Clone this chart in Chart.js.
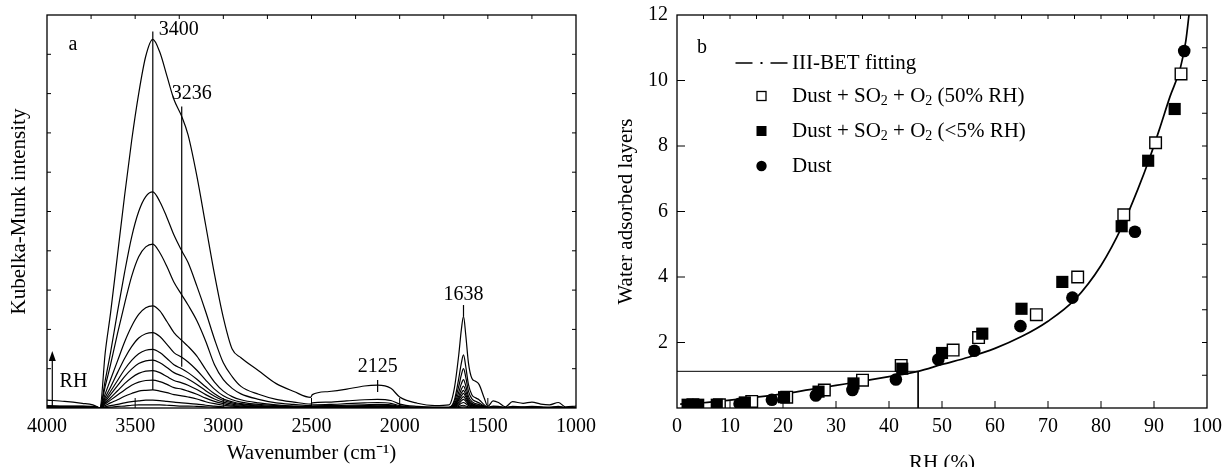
<!DOCTYPE html>
<html>
<head>
<meta charset="utf-8">
<script src="https://cdn.jsdelivr.net/npm/chart.js@4.4.0/dist/chart.umd.min.js"></script>
<style>
  body { margin: 0; background: #fff; width: 1224px; height: 467px; overflow: hidden; position: relative; }
  .panel { position: absolute; top: 0; width: 612px; height: 467px; }
</style>
</head>
<body>
<div class="panel" style="left:0"><canvas id="chartA" width="612" height="467"></canvas></div>
<div class="panel" style="left:612px"><canvas id="chartB" width="612" height="467"></canvas></div>
<script>
const serif = '"Liberation Serif", "Times New Roman", serif';

// ---- panel a : DRIFTS spectra, one curve per RH step ----
const wavenumber = [4000, 3900, 3800, 3740, 3715, 3700,
  3670, 3640, 3600, 3560, 3520, 3480, 3440, 3400,
  3360, 3320, 3280, 3236, 3200, 3150, 3100, 3050, 3000,
  2950, 2900, 2800, 2700, 2600, 2505, 2495,
  2400, 2300, 2200, 2125, 2050, 2000,
  1900, 1800, 1720, 1690, 1665, 1650, 1638,
  1625, 1610, 1590, 1570, 1550, 1520, 1500,
  1470, 1440, 1400, 1360, 1300, 1250, 1200, 1150, 1100, 1060, 1000];

const km01 = [0, 0, 0, 0, 0, 0,
  0.01, 0.02, 0.04, 0.05, 0.07, 0.08, 0.08, 0.08,
  0.08, 0.07, 0.06, 0.05, 0.05, 0.04, 0.03, 0.02, 0.01,
  0, 0, 0, 0, 0, 0, 0,
  0, 0, 0, 0, 0, 0,
  0, 0, 0, 0, 0.01, 0.02, 0.03,
  0.02, 0.01, 0, 0, 0, 0, 0,
  0, 0, 0, 0, 0, 0, 0, 0, 0, 0, 0];
const km02 = [0.01, 0.01, 0, 0, 0, 0,
  0.03, 0.06, 0.09, 0.13, 0.16, 0.18, 0.20, 0.20,
  0.19, 0.17, 0.15, 0.13, 0.12, 0.10, 0.07, 0.05, 0.03,
  0.02, 0.01, 0.01, 0, 0, 0, 0,
  0, 0, 0, 0, 0, 0,
  0, 0, 0, 0.01, 0.04, 0.06, 0.07,
  0.05, 0.03, 0.01, 0.01, 0, 0, 0,
  0, 0, 0, 0, 0, 0, 0, 0, 0, 0, 0];
const km03 = [0.01, 0.01, 0.01, 0.01, 0, 0,
  0.06, 0.13, 0.21, 0.30, 0.37, 0.43, 0.45, 0.46,
  0.43, 0.39, 0.34, 0.31, 0.28, 0.23, 0.16, 0.11, 0.07,
  0.05, 0.03, 0.02, 0.01, 0.01, 0.01, 0.01,
  0.01, 0.01, 0.01, 0.01, 0.01, 0,
  0, 0, 0, 0.02, 0.07, 0.12, 0.14,
  0.11, 0.06, 0.03, 0.02, 0.01, 0, 0,
  0, 0, 0, 0, 0, 0, 0, 0, 0, 0, 0];
const km04 = [0.02, 0.01, 0.01, 0.01, 0.01, 0,
  0.10, 0.20, 0.33, 0.46, 0.58, 0.66, 0.70, 0.71,
  0.67, 0.60, 0.52, 0.48, 0.43, 0.35, 0.25, 0.17, 0.11,
  0.07, 0.05, 0.03, 0.02, 0.01, 0.01, 0.01,
  0.02, 0.02, 0.02, 0.02, 0.02, 0.01,
  0, 0, 0, 0.03, 0.11, 0.18, 0.22,
  0.17, 0.09, 0.05, 0.03, 0.02, 0.01, 0,
  0, 0, 0, 0, 0, 0, 0, 0, 0, 0, 0];
const km05 = [0.02, 0.02, 0.01, 0.01, 0.01, 0,
  0.13, 0.26, 0.44, 0.62, 0.77, 0.88, 0.94, 0.95,
  0.90, 0.80, 0.70, 0.64, 0.58, 0.47, 0.34, 0.23, 0.15,
  0.10, 0.07, 0.04, 0.03, 0.02, 0.01, 0.02,
  0.02, 0.03, 0.03, 0.03, 0.03, 0.01,
  0, 0, 0, 0.04, 0.15, 0.24, 0.29,
  0.22, 0.12, 0.06, 0.04, 0.03, 0.01, 0,
  0, 0, 0, 0, 0, 0, 0, 0, 0, 0, 0];
const km06 = [0.02, 0.02, 0.02, 0.01, 0.01, 0,
  0.17, 0.34, 0.57, 0.80, 0.99, 1.13, 1.20, 1.22,
  1.15, 1.03, 0.90, 0.82, 0.74, 0.60, 0.44, 0.30, 0.19,
  0.13, 0.09, 0.05, 0.03, 0.02, 0.02, 0.02,
  0.03, 0.03, 0.04, 0.04, 0.04, 0.02,
  0.01, 0, 0, 0.05, 0.20, 0.31, 0.37,
  0.28, 0.15, 0.08, 0.05, 0.04, 0.02, 0,
  0.01, 0.01, 0, 0.01, 0, 0.01, 0, 0, 0.01, 0, 0];
const km07 = [0.03, 0.02, 0.02, 0.02, 0.01, 0,
  0.21, 0.42, 0.70, 0.98, 1.21, 1.38, 1.47, 1.49,
  1.41, 1.26, 1.10, 1.00, 0.90, 0.73, 0.54, 0.36, 0.23,
  0.16, 0.11, 0.07, 0.04, 0.03, 0.02, 0.03,
  0.04, 0.04, 0.05, 0.05, 0.05, 0.02,
  0.01, 0, 0, 0.06, 0.24, 0.38, 0.45,
  0.34, 0.18, 0.10, 0.07, 0.05, 0.02, 0,
  0.01, 0.01, 0, 0.01, 0.01, 0.01, 0.01, 0, 0.01, 0, 0];
const km08 = [0.03, 0.03, 0.02, 0.02, 0.01, 0,
  0.27, 0.53, 0.90, 1.26, 1.56, 1.78, 1.89, 1.92,
  1.82, 1.62, 1.41, 1.29, 1.17, 0.96, 0.71, 0.48, 0.31,
  0.21, 0.15, 0.09, 0.06, 0.04, 0.03, 0.04,
  0.05, 0.05, 0.06, 0.07, 0.06, 0.03,
  0.01, 0.01, 0.01, 0.08, 0.30, 0.48, 0.56,
  0.43, 0.23, 0.12, 0.08, 0.07, 0.03, 0,
  0.01, 0.01, 0.01, 0.01, 0.01, 0.01, 0.01, 0.01, 0.01, 0.01, 0.01];
const km09 = [0.04, 0.03, 0.03, 0.03, 0.02, 0,
  0.36, 0.72, 1.20, 1.68, 2.08, 2.38, 2.55, 2.60,
  2.47, 2.20, 1.92, 1.72, 1.57, 1.32, 0.98, 0.66, 0.43,
  0.29, 0.21, 0.13, 0.08, 0.05, 0.04, 0.05,
  0.06, 0.07, 0.08, 0.09, 0.08, 0.04,
  0.01, 0.01, 0.01, 0.10, 0.40, 0.62, 0.72,
  0.56, 0.30, 0.16, 0.11, 0.09, 0.04, 0.01,
  0.02, 0.02, 0.01, 0.02, 0.01, 0.02, 0.01, 0.01, 0.02, 0.01, 0.01];
const km10 = [0.05, 0.04, 0.04, 0.03, 0.02, 0,
  0.55, 1.10, 1.90, 2.65, 3.35, 3.85, 4.10, 4.17,
  3.95, 3.60, 3.20, 2.88, 2.62, 2.22, 1.70, 1.10, 0.72,
  0.50, 0.36, 0.22, 0.13, 0.09, 0.06, 0.08,
  0.09, 0.11, 0.13, 0.14, 0.12, 0.06,
  0.02, 0.01, 0.01, 0.15, 0.55, 0.85, 1.00,
  0.78, 0.43, 0.23, 0.17, 0.13, 0.05, 0.01,
  0.03, 0.03, 0.01, 0.03, 0.02, 0.03, 0.02, 0.01, 0.03, 0.01, 0.01];
const km11 = [0.06, 0.05, 0.05, 0.04, 0.02, 0,
  0.70, 1.40, 2.45, 3.45, 4.35, 5.00, 5.38, 5.50,
  5.25, 4.85, 4.40, 4.00, 3.70, 3.10, 2.45, 1.75, 1.15,
  0.80, 0.55, 0.35, 0.22, 0.15, 0.10, 0.13,
  0.15, 0.18, 0.21, 0.22, 0.19, 0.10,
  0.04, 0.02, 0.02, 0.20, 0.75, 1.15, 1.35,
  1.05, 0.60, 0.33, 0.26, 0.21, 0.08, 0.02,
  0.05, 0.04, 0.01, 0.04, 0.03, 0.04, 0.03, 0.02, 0.04, 0.01, 0.01];
const km12 = [0.20, 0.17, 0.12, 0.08, 0.03, 0,
  1.40, 2.40, 3.90, 5.40, 6.80, 8.00, 8.95, 9.38,
  9.05, 8.45, 7.85, 7.42, 6.95, 5.90, 4.65, 3.40, 2.30,
  1.50, 1.28, 0.95, 0.62, 0.42, 0.27, 0.34,
  0.42, 0.48, 0.56, 0.58, 0.50, 0.28,
  0.12, 0.06, 0.08, 0.50, 1.35, 2.00, 2.33,
  1.85, 1.15, 0.75, 0.68, 0.60, 0.25, 0.04,
  0.18, 0.14, 0.03, 0.16, 0.12, 0.15, 0.10, 0.08, 0.14, 0.03, 0.05];
const spectra = [km01, km02, km03, km04, km05, km06, km07, km08, km09, km10, km11, km12];

const xTicksA = [4000, 3500, 3000, 2500, 2000, 1500, 1000];
const peakWn = [3400, 3236, 2125, 1638];
const peakLabels = ['3400', '3236', '2125', '1638'];
const peakLineLow = [0.46, 1.05, 0.41, 2.33];
const peakLineHigh = [9.58, 7.67, 0.71, 2.62];
const peakLabelY = [9.62, 7.99, 1.04, 2.88];

// ---- panel b : water adsorbed layers vs RH ----
const fitRH = [0.6, 5, 10, 15, 20, 25, 30, 35, 40, 45.5, 50, 55, 60, 65, 70, 75, 80, 84, 87, 89, 91, 93, 95, 96, 96.6];
const fitLayers = [0.12, 0.16, 0.24, 0.33, 0.43, 0.56, 0.69, 0.82, 0.96, 1.12, 1.33, 1.55, 1.82, 2.18, 2.65, 3.3, 4.35, 5.55, 6.7, 7.55, 8.5, 9.5, 10.4, 11.2, 12.0];

const dustRH = [11.8, 17.9, 26.2, 33.1, 41.3, 49.3, 56.1, 64.8, 74.6, 86.4, 95.7];
const dustLayers = [0.13, 0.25, 0.38, 0.55, 0.87, 1.48, 1.75, 2.5, 3.37, 5.38, 10.9];

const dryRH = [2.0, 4.0, 7.5, 12.8, 20.2, 26.7, 33.3, 42.5, 50.0, 57.6, 65.0, 72.7, 83.9, 88.9, 93.9];
const dryLayers = [0.1, 0.1, 0.1, 0.17, 0.33, 0.5, 0.75, 1.2, 1.68, 2.27, 3.03, 3.85, 5.55, 7.55, 9.13];

const wetRH = [3.0, 8.0, 14.1, 20.7, 27.8, 35.0, 42.3, 52.1, 56.9, 67.8, 75.6, 84.3, 90.3, 95.1];
const wetLayers = [0.1, 0.1, 0.2, 0.33, 0.55, 0.85, 1.3, 1.77, 2.15, 2.85, 4.0, 5.9, 8.1, 10.2];

const monolayer = 1.12;
const monolayerRH = 45.5;

const xTicksB = [0, 10, 20, 30, 40, 50, 60, 70, 80, 90, 100];
const yTicksB = [2, 4, 6, 8, 10, 12];

const pts = (xs, ys) => xs.map((v, i) => ({x: v, y: ys[i]}));

// inward tick marks on all four sides of the frame
function drawFrame(chart, marks) {
  const {ctx, chartArea: a, scales: {x, y}} = chart;
  ctx.save();
  ctx.strokeStyle = '#000';
  ctx.lineWidth = 1.3;
  ctx.strokeRect(a.left, a.top, a.right - a.left, a.bottom - a.top);
  ctx.lineWidth = 1;
  ctx.beginPath();
  marks.bottom[0].forEach(v => { const p = x.getPixelForValue(v); ctx.moveTo(p, a.bottom); ctx.lineTo(p, a.bottom - marks.bottom[1]); });
  marks.top[0].forEach(v => { const p = x.getPixelForValue(v); ctx.moveTo(p, a.top); ctx.lineTo(p, a.top + marks.top[1]); });
  marks.left[0].forEach(v => { const p = y.getPixelForValue(v); ctx.moveTo(a.left, p); ctx.lineTo(a.left + marks.left[1], p); });
  marks.right[0].forEach(v => { const p = y.getPixelForValue(v); ctx.moveTo(a.right, p); ctx.lineTo(a.right - marks.right[1], p); });
  ctx.stroke();
  ctx.restore();
}

const panelA = {
  id: 'panelA',
  afterDatasetsDraw(chart) {
    drawFrame(chart, {
      bottom: [[3500, 3000, 2500, 2000, 1500], 10],
      top: [[3750, 3500, 3250, 3000, 2750, 2500, 2250, 2000, 1750, 1500, 1250], 4],
      left: [[1, 2, 3, 4, 5, 6, 7, 8, 9], 4],
      right: [[1, 2, 3, 4, 5, 6, 7, 8, 9], 4]
    });
    const {ctx, chartArea: a, scales: {x, y}} = chart;
    ctx.save();
    ctx.strokeStyle = '#000';
    ctx.fillStyle = '#000';
    ctx.lineWidth = 1.2;
    ctx.font = '20px ' + serif;
    ctx.textBaseline = 'middle';
    ctx.textAlign = 'center';
    const labelShift = [26, 10, 0, 0];
    peakWn.forEach((wn, i) => {
      const px = x.getPixelForValue(wn);
      ctx.beginPath();
      ctx.moveTo(px, y.getPixelForValue(peakLineLow[i]));
      ctx.lineTo(px, y.getPixelForValue(peakLineHigh[i]));
      ctx.stroke();
      ctx.fillText(peakLabels[i], px + labelShift[i], y.getPixelForValue(peakLabelY[i]));
    });
    // RH arrow
    const ax = x.getPixelForValue(3970);
    const tip = y.getPixelForValue(1.45);
    ctx.beginPath();
    ctx.moveTo(ax, a.bottom);
    ctx.lineTo(ax, tip + 6);
    ctx.stroke();
    ctx.beginPath();
    ctx.moveTo(ax, tip);
    ctx.lineTo(ax - 3.5, tip + 10);
    ctx.lineTo(ax + 3.5, tip + 10);
    ctx.closePath();
    ctx.fill();
    ctx.fillText('RH', x.getPixelForValue(3850), y.getPixelForValue(0.66));
    ctx.fillText('a', a.left + 26, a.top + 30);
    ctx.restore();
  }
};

const legendRows = [
  [{t: 'III-BET fitting'}],
  [{t: 'Dust + SO'}, {t: '2', sub: true}, {t: ' + O'}, {t: '2', sub: true}, {t: ' (50% RH)'}],
  [{t: 'Dust + SO'}, {t: '2', sub: true}, {t: ' + O'}, {t: '2', sub: true}, {t: ' (<5% RH)'}],
  [{t: 'Dust'}]
];

const panelB = {
  id: 'panelB',
  afterDatasetsDraw(chart) {
    drawFrame(chart, {
      bottom: [[10, 20, 30, 40, 50, 60, 70, 80, 90], 7],
      top: [[5, 10, 15, 20, 25, 30, 35, 40, 45, 50, 55, 60, 65, 70, 75, 80, 85, 90, 95], 4],
      left: [[2, 4, 6, 8, 10], 8],
      right: [[1, 2, 3, 4, 5, 6, 7, 8, 9, 10, 11], 5]
    });
    const {ctx, chartArea: a} = chart;
    ctx.save();
    ctx.fillStyle = '#000';
    ctx.strokeStyle = '#000';
    ctx.textBaseline = 'middle';
    ctx.textAlign = 'center';
    ctx.font = '20px ' + serif;
    ctx.fillText('b', a.left + 25, a.top + 33);

    const symX = a.left + 84.5;
    const textX = a.left + 115;
    const rowY = [48, 81, 116, 151].map(v => a.top + v);
    // dash-dot sample
    ctx.lineWidth = 1.3;
    ctx.beginPath();
    ctx.moveTo(symX - 26, rowY[0]); ctx.lineTo(symX - 9, rowY[0]);
    ctx.moveTo(symX + 9, rowY[0]); ctx.lineTo(symX + 26, rowY[0]);
    ctx.stroke();
    ctx.fillRect(symX - 1, rowY[0] - 1, 2, 2);
    // open square, filled square, circle
    ctx.lineWidth = 1.3;
    ctx.strokeRect(symX - 4.5, rowY[1] - 4.5, 9, 9);
    ctx.fillRect(symX - 5, rowY[2] - 5, 10, 10);
    ctx.beginPath();
    ctx.arc(symX, rowY[3], 5.2, 0, Math.PI * 2);
    ctx.fill();

    ctx.textAlign = 'left';
    legendRows.forEach((row, i) => {
      let cx = textX;
      row.forEach(seg => {
        ctx.font = (seg.sub ? '14px ' : '21px ') + serif;
        ctx.fillText(seg.t, cx, rowY[i] + (seg.sub ? 5 : 0));
        cx += ctx.measureText(seg.t).width;
      });
    });
    ctx.restore();
  }
};

const tickFont = {family: serif, size: 20};
const titleFont = {family: serif, size: 21};

// fixed axis boxes so the plot frames land where the original has them
const fixX = s => { s.height = 59; s.paddingLeft = 0; s.paddingRight = 0; };
const fixY = w => s => { s.width = w; s.paddingTop = 0; s.paddingBottom = 0; };

new Chart(document.getElementById('chartA'), {
  type: 'scatter',
  data: {
    datasets: spectra.map(s => ({
      data: pts(wavenumber, s),
      showLine: true,
      borderColor: '#000',
      borderWidth: 1.2,
      pointRadius: 0,
      cubicInterpolationMode: 'monotone'
    }))
  },
  options: {
    responsive: false,
    animation: false,
    events: [],
    layout: {padding: {top: 15, right: 36, left: 0, bottom: 0}},
    plugins: {legend: {display: false}, tooltip: {enabled: false}},
    scales: {
      x: {
        type: 'linear', reverse: true, min: 1000, max: 4000,
        afterBuildTicks: s => { s.ticks = xTicksA.map(v => ({value: v})); },
        afterFit: fixX,
        ticks: {callback: v => String(v), font: tickFont, color: '#000', padding: 7, maxRotation: 0, autoSkip: false},
        grid: {display: false, drawTicks: false},
        border: {display: false},
        title: {display: true, text: 'Wavenumber (cm\u207B\u00B9)', font: titleFont, color: '#000', padding: {top: 0, bottom: 1}}
      },
      y: {
        min: 0, max: 10,
        afterFit: fixY(47),
        ticks: {display: false},
        grid: {display: false, drawTicks: false},
        border: {display: false},
        title: {display: true, text: 'Kubelka-Munk intensity', font: titleFont, color: '#000', padding: {top: 7, bottom: 0}}
      }
    }
  },
  plugins: [panelA]
});

new Chart(document.getElementById('chartB'), {
  type: 'scatter',
  data: {
    datasets: [
      {data: pts(dustRH, dustLayers), pointStyle: 'circle', pointRadius: 6.3, backgroundColor: '#000', borderColor: '#000', borderWidth: 0},
      {data: pts(dryRH, dryLayers), pointStyle: 'rect', pointRadius: 8.6, backgroundColor: '#000', borderColor: '#000', borderWidth: 0},
      {data: pts(wetRH, wetLayers), pointStyle: 'rect', pointRadius: 8.2, backgroundColor: '#fff', borderColor: '#000', borderWidth: 1.4},
      {data: pts(fitRH, fitLayers), showLine: true, pointRadius: 0, borderColor: '#000', borderWidth: 1.7, cubicInterpolationMode: 'monotone'},
      {data: pts([0, monolayerRH, monolayerRH], [monolayer, monolayer, 0]), showLine: true, pointRadius: 0, borderColor: '#000', borderWidth: 1}
    ]
  },
  options: {
    responsive: false,
    animation: false,
    events: [],
    layout: {padding: {top: 15, right: 17, left: 0, bottom: 0}},
    plugins: {legend: {display: false}, tooltip: {enabled: false}},
    scales: {
      x: {
        type: 'linear', min: 0, max: 100,
        afterBuildTicks: s => { s.ticks = xTicksB.map(v => ({value: v})); },
        afterFit: fixX,
        ticks: {callback: v => String(v), font: tickFont, color: '#000', padding: 7, maxRotation: 0, autoSkip: false},
        grid: {display: false, drawTicks: false},
        border: {display: false},
        title: {display: true, text: 'RH (%)', font: titleFont, color: '#000', padding: {top: 0, bottom: -9}}
      },
      y: {
        min: 0, max: 12,
        afterBuildTicks: s => { s.ticks = yTicksB.map(v => ({value: v})); },
        afterFit: fixY(65),
        ticks: {callback: v => String(v), font: tickFont, color: '#000', padding: 9, autoSkip: false},
        grid: {display: false, drawTicks: false},
        border: {display: false},
        title: {display: true, text: 'Water adsorbed layers', font: titleFont, color: '#000', padding: {top: 2, bottom: 0}}
      }
    }
  },
  plugins: [panelB]
});
</script>
</body>
</html>
